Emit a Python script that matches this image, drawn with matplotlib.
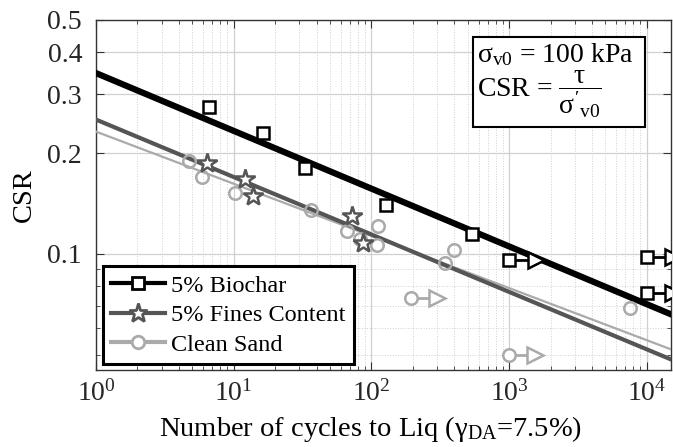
import numpy as np
import matplotlib
matplotlib.use("Agg")
import matplotlib.pyplot as plt
from matplotlib.lines import Line2D
from matplotlib.patches import Rectangle
from matplotlib.ticker import LogLocator, FixedLocator, FixedFormatter, LogFormatterMathtext, NullFormatter

plt.rcParams['font.family'] = ['Liberation Serif', 'DejaVu Serif']
plt.rcParams['mathtext.fontset'] = 'custom'
plt.rcParams['mathtext.rm'] = 'Liberation Serif'
plt.rcParams['mathtext.it'] = 'Liberation Serif:italic'
plt.rcParams['mathtext.bf'] = 'Liberation Serif:bold'

# ---- data ----
biochar_N = [6.6, 16.4, 33, 128, 534]
biochar_csr = [0.274, 0.230, 0.181, 0.140, 0.115]
biochar_runout_N = [1000, 10000, 10000]
biochar_runout_csr = [0.0957, 0.0977, 0.0762]
biochar_runout_end = [1560, 15600, 15600]

fines_N = [6.4, 12.1, 13.9, 72.8, 87.5]
fines_csr = [0.187, 0.168, 0.149, 0.130, 0.108]

sand_N = [4.7, 5.9, 10.3, 36.6, 66, 83, 112, 110, 340, 395, 7520]
sand_csr = [0.190, 0.170, 0.152, 0.135, 0.117, 0.111, 0.121, 0.106, 0.094, 0.103, 0.069]
sand_runout_N = [195, 1000]
sand_runout_csr = [0.0737, 0.050]
sand_runout_end = [302, 1550]

# power-law fits CSR = a * N^b
fit_biochar = (0.347, -0.1726)
fit_fines = (0.252, -0.1716)
fit_sand = (0.232, -0.1558)

xlim = (1, 15000)
ylim = (0.045, 0.5)
yticks = [0.1, 0.2, 0.3, 0.4, 0.5]
yticklabels = ['0.1', '0.2', '0.3', '0.4', '0.5']
yminor = [0.05, 0.06, 0.07, 0.08, 0.09]
legend_labels = ['5% Biochar', '5% Fines Content', 'Clean Sand']

c_bio = 'black'
c_fines = '#555555'
c_sand = '#aaaaaa'

fig = plt.figure(figsize=(6.73, 4.47), dpi=100)
ax = fig.add_axes([96/673, 1-370/447, 575/673, 350/447])
ax.set_xscale('log')
ax.set_yscale('log')
ax.set_xlim(*xlim)
ax.set_ylim(*ylim)

xx = np.logspace(np.log10(xlim[0]), np.log10(xlim[1]), 50)
ax.plot(xx, fit_sand[0]*xx**fit_sand[1], color=c_sand, lw=1.6, zorder=3)
ax.plot(xx, fit_fines[0]*xx**fit_fines[1], color=c_fines, lw=3.0, zorder=3)
ax.plot(xx, fit_biochar[0]*xx**fit_biochar[1], color=c_bio, lw=4.5, zorder=3)

# runout arrows
for n0, c, n1 in zip(biochar_runout_N, biochar_runout_csr, biochar_runout_end):
    ax.plot([n0, n1], [c, c], color=c_bio, lw=2, zorder=4)
    ax.plot([n1], [c], marker='>', ms=11, mfc='white', mec=c_bio, mew=1.8, ls='none', zorder=4)
for n0, c, n1 in zip(sand_runout_N, sand_runout_csr, sand_runout_end):
    ax.plot([n0, n1], [c, c], color=c_sand, lw=2, zorder=4)
    ax.plot([n1], [c], marker='>', ms=11, mfc='white', mec=c_sand, mew=1.8, ls='none', zorder=4)

ax.plot(sand_N, sand_csr, 'o', ms=9, mfc='none', mec=c_sand, mew=1.8, zorder=5)
ax.plot(sand_runout_N, sand_runout_csr, 'o', ms=9, mfc='white', mec=c_sand, mew=1.8, zorder=5)
ax.plot(fines_N, fines_csr, '*', ms=15, mfc='white', mec=c_fines, mew=1.8, zorder=5)
ax.plot(biochar_N, biochar_csr, 's', ms=9, mfc='white', mec=c_bio, mew=1.8, zorder=5)
ax.plot(biochar_runout_N, biochar_runout_csr, 's', ms=9, mfc='white', mec=c_bio, mew=1.8, zorder=5)

# ticks
ax.xaxis.set_major_locator(LogLocator(base=10, numticks=10))
ax.xaxis.set_major_formatter(LogFormatterMathtext())
ax.xaxis.set_minor_locator(LogLocator(base=10, subs=np.arange(2, 10), numticks=20))
ax.xaxis.set_minor_formatter(NullFormatter())
ax.yaxis.set_major_locator(FixedLocator(yticks))
ax.yaxis.set_major_formatter(FixedFormatter(yticklabels))
ax.yaxis.set_minor_locator(FixedLocator(yminor))
ax.yaxis.set_minor_formatter(NullFormatter())
ax.tick_params(which='both', direction='in', top=True, right=True, labelsize=20, colors='#333333', labelcolor='#262626')
ax.tick_params(which='major', length=6, width=0.8)
ax.tick_params(which='minor', length=3, width=0.6)
ax.tick_params(axis='x', pad=7)
ax.tick_params(axis='y', pad=10)
ax.grid(True, which='major', color='#d0d0d0', lw=0.9, ls='-')
ax.grid(True, which='minor', color='#d0d0d0', lw=0.7, ls=':')
ax.set_axisbelow(True)
for s in ax.spines.values():
    s.set_color('#333333')
    s.set_linewidth(1.0)

ax.set_xlabel(r'Number of cycles to Liq ($\mathrm{\gamma_{DA}}$=7.5%)', fontsize=20.5)
ax.xaxis.set_label_coords(0.478, -0.125)
ax.set_ylabel('CSR', fontsize=20.5, labelpad=8)

# legend
handles = [
    Line2D([], [], color=c_bio, lw=3, marker='s', ms=9, mfc='white', mec=c_bio, mew=2),
    Line2D([], [], color=c_fines, lw=3, marker='*', ms=14, mfc='white', mec=c_fines, mew=2),
    Line2D([], [], color=c_sand, lw=3, marker='o', ms=9, mfc='white', mec=c_sand, mew=2),
]
leg = ax.legend(handles, legend_labels,
                loc='lower left', bbox_to_anchor=(0.012, 0.017), borderaxespad=0,
                prop={'size': 17.5}, fancybox=False, framealpha=1, edgecolor='black',
                handlelength=2.2, handletextpad=0.25, labelspacing=0.3, borderpad=0.35)
leg.get_frame().set_linewidth(2.2)
leg.set_zorder(10)

# annotation box
ax.add_patch(Rectangle((0.6557, 0.694), 0.2991, 0.257, transform=ax.transAxes,
                       fc='white', ec='black', lw=1.5, zorder=10))
ax.text(0.663, 0.88, "σ$_{\\mathrm{v0}}$ = 100 kPa", transform=ax.transAxes,
        ha='left', va='baseline', fontsize=20, zorder=11)
ax.text(0.663, 0.78, "CSR = $\\dfrac{\\mathrm{τ}}{\\mathrm{σ}'_{\\mathrm{v0}}}$", transform=ax.transAxes,
        ha='left', va='baseline', fontsize=20, zorder=11)

fig.savefig('out.png', dpi=100)
